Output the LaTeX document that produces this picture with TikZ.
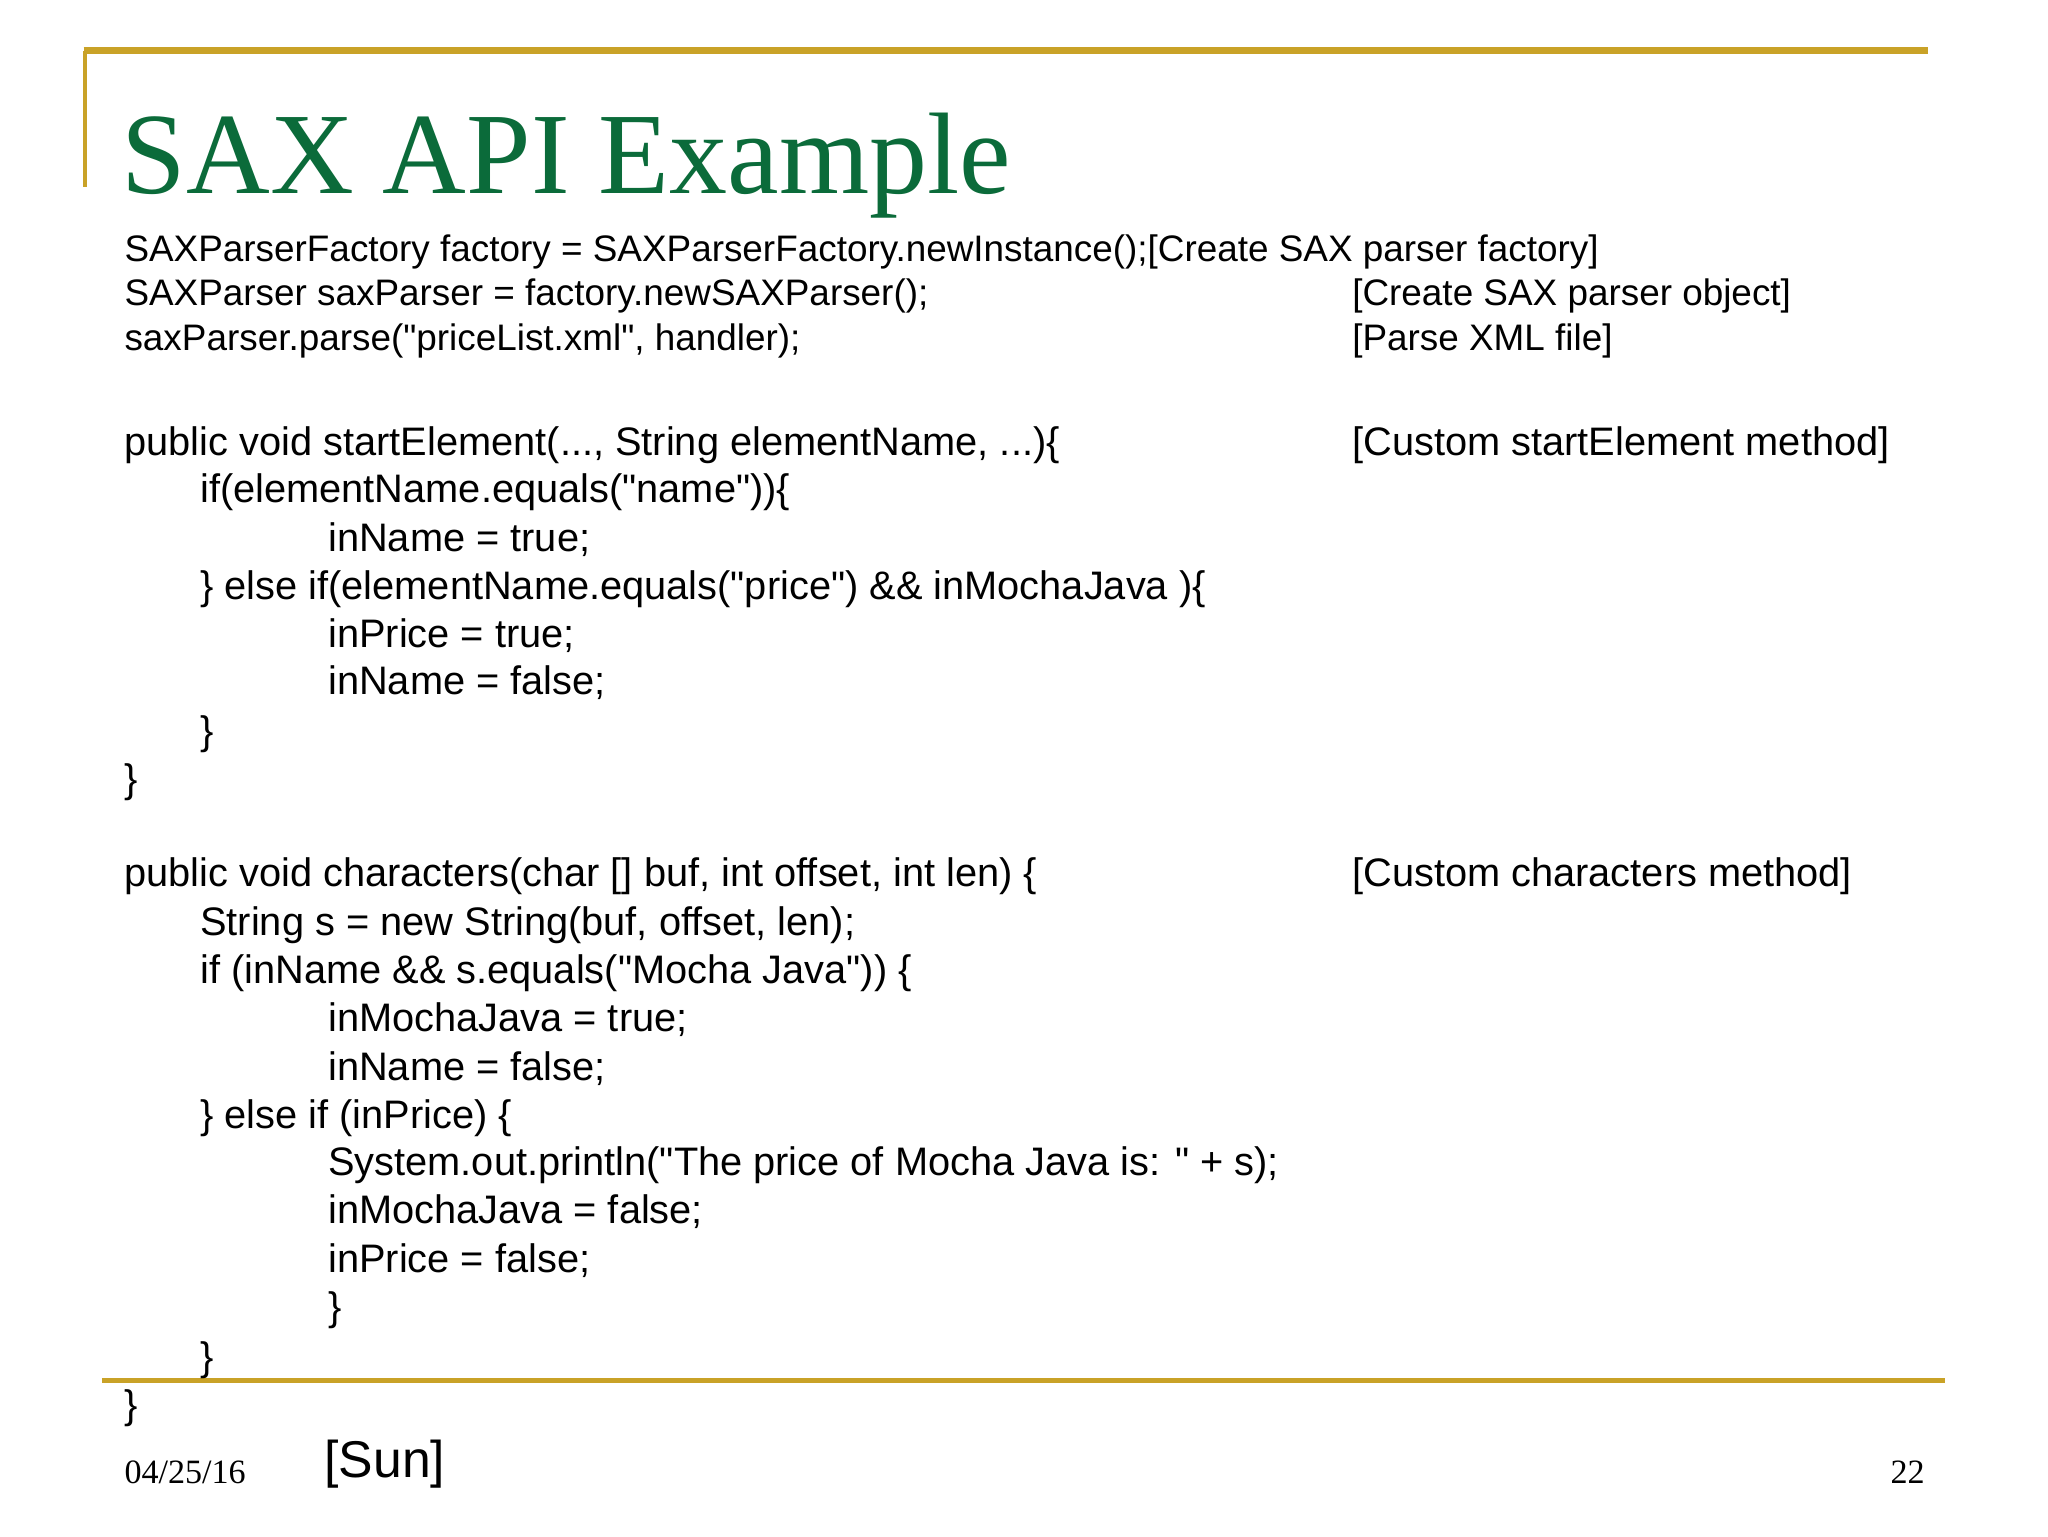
\documentclass[tikz,border=0pt]{standalone}
\usepackage{fontspec}
\setmainfont{Liberation Sans}[Ligatures=TeXOff]
\newfontfamily\serifnt{Liberation Serif}
\definecolor{gold}{HTML}{C9A227}
\definecolor{titlegreen}{HTML}{0B6B3A}
\newcommand\qq{"}
\begin{document}
\begin{tikzpicture}[x=0.01979cm,y=-0.01979cm,
  code/.style={anchor=base west,inner sep=0pt,font=\fontsize{17.15}{19}\selectfont},
  codea/.style={anchor=base west,inner sep=0pt,font=\fontsize{15.9}{18}\selectfont}]
\useasboundingbox (0,0) rectangle (1568,1176);
\fill[white] (0,0) rectangle (1568,1176);
\draw[gold,line width=3pt] (64,39) -- (1476,39);
\draw[gold,line width=1.5pt] (65,39) -- (65,143);
\draw[gold,line width=2pt] (78,1057) -- (1489,1057);
\node[anchor=base west,inner sep=0pt,text=titlegreen,font=\serifnt\fontsize{50}{56}\selectfont] (title) at (93,148) {SAX API Example};
% block 1
\node[codea] (l1) at (95,200) {SAXParserFactory factory = SAXParserFactory.newInstance();[Create SAX parser factory]};
\node[codea] (l2) at (95,234) {SAXParser saxParser = factory.newSAXParser();};
\node[codea] (l2r) at (1035,234) {[Create SAX parser object]};
\node[codea] (l3) at (95,268) {saxParser.parse(\qq priceList.xml\qq, handler);};
\node[codea] (l3r) at (1035,268) {[Parse XML file]};
% block 2
\node[code] (s1) at (95,349) {public void startElement(..., String elementName, ...)\{};
\node[code] (s1r) at (1035,349) {[Custom startElement method]};
\node[code] (s2) at (153,385) {if(elementName.equals(\qq name\qq))\{};
\node[code] (s3) at (251,422) {inName = true;};
\node[code] (s4) at (153,459) {\} else if(elementName.equals(\qq price\qq) \&\& inMochaJava )\{};
\node[code] (s5) at (251,496) {inPrice = true;};
\node[code] (s6) at (251,532) {inName = false;};
\node[code] (s7) at (153,570) {\}};
\node[code] (s8) at (95,607) {\}};
% block 3
\node[code] (c1) at (95,679) {public void characters(char [] buf, int offset, int len) \{};
\node[code] (c1r) at (1035,679) {[Custom characters method]};
\node[code] (c2) at (153,716) {String s = new String(buf, offset, len);};
\node[code] (c3) at (153,753) {if (inName \&\& s.equals(\qq Mocha Java\qq)) \{};
\node[code] (c4) at (251,790) {inMochaJava = true;};
\node[code] (c5) at (251,827) {inName = false;};
\node[code] (c6) at (153,864) {\} else if (inPrice) \{};
\node[code] (c7) at (251,900) {System.out.println(\qq The price of Mocha Java is: \qq\ + s);};
\node[code] (c8) at (251,937) {inMochaJava = false;};
\node[code] (c9) at (251,974) {inPrice = false;};
\node[code] (c10) at (251,1011) {\}};
\node[code] (c11) at (153,1049) {\}};
\node[code] (c12) at (95,1086) {\}};
% footer
\node[anchor=base west,inner sep=0pt,font=\serifnt\fontsize{14.7}{16}\selectfont] (date) at (95,1136) {04/25/16};
\node[anchor=base west,inner sep=0pt,font=\fontsize{22.3}{26}\selectfont] (sun) at (248,1131) {[Sun]};
\node[anchor=base east,inner sep=0pt,font=\serifnt\fontsize{14.7}{16}\selectfont] (num) at (1474,1136) {22};
\end{tikzpicture}
\end{document}
